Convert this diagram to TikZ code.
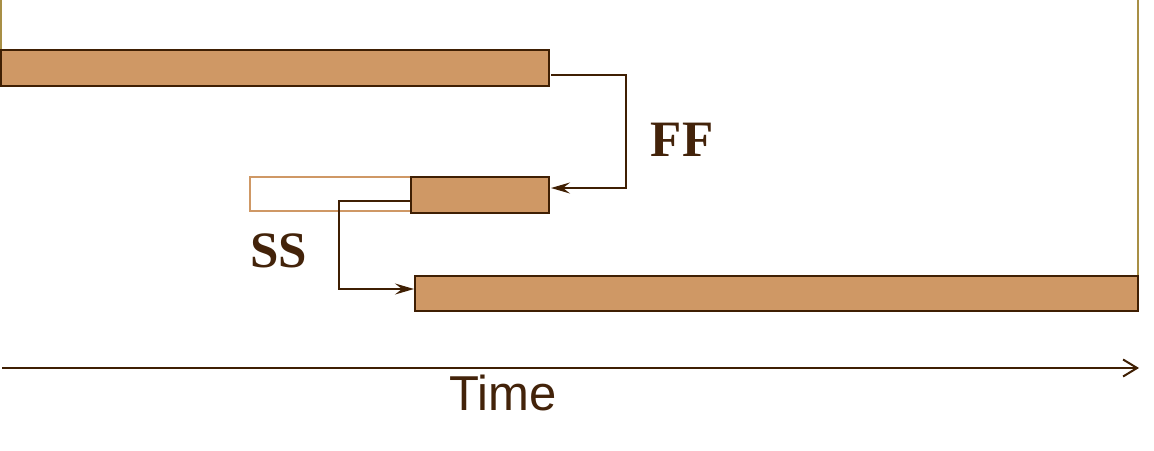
\documentclass[tikz,border=0pt]{standalone}
\usepackage{fontspec}
\setmainfont{Liberation Serif}
\newfontfamily\arialfont{Liberation Sans}
\usetikzlibrary{arrows.meta}
\definecolor{barfill}{HTML}{CF9865}
\definecolor{barline}{HTML}{3F1F03}
\definecolor{txtbrown}{HTML}{43230A}
\definecolor{goldline}{HTML}{A88F45}
\begin{document}
\begin{tikzpicture}[x=1pt,y=-1pt,
  bar/.style={draw=barline,fill=barfill,line width=2.6pt,inner sep=0pt,minimum height=0pt},
  hollowbar/.style={draw=barfill,line width=2.4pt},
  link/.style={draw=barline,line width=2pt,-{Stealth[length=19pt,width=11pt,inset=7pt]}},
  lbl/.style={text=txtbrown,font=\fontsize{51}{51}\selectfont\bfseries,inner sep=0pt},
  timelbl/.style={text=txtbrown,font=\arialfont\fontsize{49}{49}\selectfont,inner sep=0pt}]
\useasboundingbox (0,0) rectangle (1154,450);
% frame lines
\draw[goldline,line width=2.5pt] (1,0) -- (1,86);
\draw[goldline,line width=2.5pt] (1138,0) -- (1138,300);
% bars
\path[bar] (1,50) rectangle (549,86);
\coordinate (b1e) at (551,75);
\path[hollowbar] (250,177) rectangle (411,211);
\path[bar] (411,177) rectangle (549,213);
\coordinate (b2e) at (551,188);
\coordinate (b2s) at (411,201);
\path[bar] (415,276) rectangle (1138,311);
\coordinate (b3s) at (414,289);
% FF link
\draw[link] (b1e) -- (626,75) -- (626,188) -- (b2e);
\node[lbl] (ff) at (682,140) {FF};
% SS link
\draw[link] (b2s) -- (339,201) -- (339,289) -- (b3s);
\node[lbl] (ss) at (279,251) {SS};
% time axis
\coordinate (t0) at (2,368);
\coordinate (t1) at (1139,368);
\draw[barline,line width=2pt,-{Straight Barb[length=14pt,width=17pt,line width=2pt]}] (t0) -- (t1);
\node[timelbl,anchor=base] (time) at (503,410) {Time};
\end{tikzpicture}
\end{document}
